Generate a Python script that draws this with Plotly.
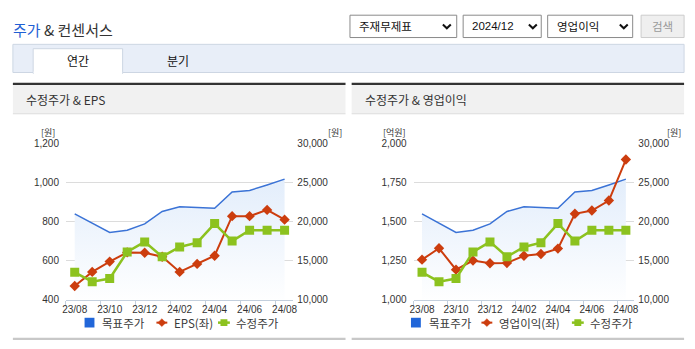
import plotly.graph_objects as go

# ---- data -------------------------------------------------------------
months = ["23/08", "23/09", "23/10", "23/11", "23/12", "24/01", "24/02",
          "24/03", "24/04", "24/05", "24/06", "24/07", "24/08"]
target_price = [21000, 19800, 18600, 18900, 19700, 21300, 21900,
                21800, 21700, 23800, 24000, 24700, 25450]          # 목표주가 (원)
adj_price = [13500, 12300, 12700, 16100, 17400, 15500, 16750,
             17300, 19750, 17500, 18900, 18900, 18900]              # 수정주가 (원)
eps = [470, 542, 595, 642, 640, 620, 542, 583, 625, 828, 828, 860, 810]   # EPS (원)
op_income = [1256, 1329, 1192, 1250, 1233, 1235, 1281, 1292, 1327,
             1550, 1571, 1635, 1898]                                # 영업이익 (억원)

left_ticks = [400, 600, 800, 1000, 1200]
op_ticks = [1000, 1250, 1500, 1750, 2000]
price_ticks = [10000, 15000, 20000, 25000, 30000]

# ---- page geometry helpers (pixels -> paper) ---------------------------
W, H = 695, 349


def px(x):
    return x / W


def py(y):
    return 1 - y / H


BLUE = "#3b73d6"
BLUE_SQ = "#2166d9"
RED = "#cc3d0e"
GREEN = "#8cc21f"
TXT = "#333333"
KR = "Noto Sans CJK KR"
NUM = "Liberation Sans Narrow, Arial Narrow, Liberation Sans, Arial"

fig = go.Figure()


def add_panel(xa, y_price, y_left, y_top, left_vals, left_name):
    # target price area with a soft vertical gradient (base layer)
    fig.add_trace(go.Scatter(
        x=months, y=target_price, xaxis=xa, yaxis=y_price, mode="lines",
        line=dict(color=BLUE, width=1.5), fill="tozeroy",
        fillgradient=dict(type="vertical", start=10000, stop=26000,
                          colorscale=[[0, "rgba(255,255,255,1)"], [1, "#e2edfb"]]),
        name="목표주가", hoverinfo="skip"))
    # left-axis series drawn over the area
    fig.add_trace(go.Scatter(
        x=months, y=left_vals, xaxis=xa, yaxis=y_left, mode="lines+markers",
        line=dict(color=RED, width=2),
        marker=dict(symbol="diamond", size=8, color=RED),
        name=left_name))
    # adjusted price on a hidden copy of the price axis, topmost
    fig.add_trace(go.Scatter(
        x=months, y=adj_price, xaxis=xa, yaxis=y_top, mode="lines+markers",
        line=dict(color=GREEN, width=2.5),
        marker=dict(symbol="square", size=9, color=GREEN),
        name="수정주가"))


add_panel("x", "y", "y2", "y5", eps, "EPS(좌)")
add_panel("x2", "y3", "y4", "y6", op_income, "영업이익(좌)")

Y_TOP, Y_BOT = 142.7, 303.3
ydom = [py(Y_BOT), py(Y_TOP)]

xcommon = dict(type="category", categoryarray=months, range=[-0.5, 12.5],
               tickmode="linear", tick0=0, dtick=2, tickson="boundaries",
               ticks="outside", ticklen=5, tickcolor="#c3cfdd", tickangle=0,
               showline=True, linecolor="#c3cfdd", linewidth=1,
               showgrid=False, zeroline=False,
               tickfont=dict(family=NUM, size=10, color=TXT))
ycommon = dict(showline=False, zeroline=False, ticks="",
               tickfont=dict(family=NUM, size=10, color=TXT), tickformat=",d")
price_axis = dict(range=[10000, 30000], tickvals=price_ticks)

fig.update_layout(
    width=W, height=H, margin=dict(l=0, r=0, t=0, b=0),
    paper_bgcolor="white", plot_bgcolor="white", showlegend=False,
    # left panel
    xaxis=dict(domain=[px(62.7), px(292.7)], anchor="y", **xcommon),
    yaxis=dict(domain=ydom, anchor="x", side="right", showgrid=True,
               gridcolor="#dcdcdc", ticklabelstandoff=3, **price_axis, **ycommon),
    yaxis2=dict(overlaying="y", side="left", anchor="x", range=[400, 1200],
                tickvals=left_ticks, showgrid=False, ticklabelstandoff=6, **ycommon),
    yaxis5=dict(overlaying="y", anchor="x", visible=False, showgrid=False, **price_axis),
    # right panel
    xaxis2=dict(domain=[px(414.3), px(637.7)], anchor="y3", **xcommon),
    yaxis3=dict(domain=ydom, anchor="x2", side="right", showgrid=True,
                gridcolor="#dcdcdc", ticklabelstandoff=3, **price_axis, **ycommon),
    yaxis4=dict(overlaying="y3", side="left", anchor="x2", range=[1000, 2000],
                tickvals=op_ticks, showgrid=False, ticklabelstandoff=6, **ycommon),
    yaxis6=dict(overlaying="y3", anchor="x2", visible=False, showgrid=False, **price_axis),
)

shapes = []
ann = []


def rect(x0, y0, x1, y1, fill=None, line=None, lw=1, layer="below"):
    shapes.append(dict(type="rect", xref="paper", yref="paper", layer=layer,
                       x0=px(x0), x1=px(x1), y0=py(y1), y1=py(y0),
                       fillcolor=fill or "rgba(0,0,0,0)",
                       line=dict(color=line or "rgba(0,0,0,0)", width=lw if line else 0)))


def path(points, color, width, fill=None, closed=False):
    d = "M" + " L".join(f"{px(x):.5f},{py(y):.5f}" for x, y in points)
    if closed:
        d += " Z"
    shapes.append(dict(type="path", xref="paper", yref="paper", path=d,
                       line=dict(color=color, width=width),
                       fillcolor=fill or "rgba(0,0,0,0)"))


def text(x, y, s, size=12, color=TXT, anchor="left", family=KR):
    ann.append(dict(xref="paper", yref="paper", x=px(x), y=py(y), text=s,
                    showarrow=False, xanchor=anchor, yanchor="middle",
                    font=dict(family=family, size=size, color=color)))


# ---- header ------------------------------------------------------------
text(7, 25, "<span style='color:#1f5fd4'>주가</span> & 컨센서스", size=15)

for (x0, x1, label, chev) in [(350, 458, "주재무제표", 448),
                              (464.5, 543.5, "2024/12", 535),
                              (550, 636, "영업이익", 627)]:
    rect(x0, 10.5, x1, 33.5, fill="white", line="#8a8a8a")
    text(x0 + 7, 22, label, size=11.5, color="#111111",
         family=(NUM if label[0].isdigit() else KR))
    path([(chev - 4, 20), (chev, 24), (chev + 4, 20)], "#111111", 2)
rect(644.5, 10.5, 688, 33.5, fill="#efefef", line="#cccccc")
text(666, 22, "검색", size=11.5, color="#9a9a9a", anchor="center")

# tab bar
rect(9, 40.5, 688, 69.5, fill="#e8eef8", line="#cdd6e3")
rect(29.5, 45, 120, 70.5, fill="white", line="#cdd6e3")
rect(30, 68.5, 119.5, 71, fill="white")
text(75, 57.5, "연간", size=12, color="#111111", anchor="center")
text(176, 57.5, "분기", size=12, color="#111111", anchor="center")

# chart panels
for (x0, x1, title) in [(9, 345.5, "수정주가 & EPS"), (351.7, 688, "수정주가 & 영업이익")]:
    rect(x0, 82, x1, 112, fill="#f1f1f1")
    shapes.append(dict(type="line", xref="paper", yref="paper",
                       x0=px(x0), x1=px(x1), y0=py(112), y1=py(112),
                       line=dict(color="#dddddd", width=1)))
    rect(x0, 80, x1, 82.3, fill="#333333")
    rect(x0, 342.5, x1, 344.8, fill="#c8c8c8")
    text(x0 + 11, 97.5, title, size=12, color="#333333")

# axis unit captions
text(45, 131, "[원]", size=9, anchor="center")
text(335, 131, "[원]", size=9, anchor="center")
text(395, 131, "[억원]", size=9, anchor="center")
text(678, 131, "[원]", size=9, anchor="center")

# ---- legends -----------------------------------------------------------
LY = 327


def legend(sq_x, txt1_x, red_x, txt2_x, red_name, green_x, txt3_x):
    rect(sq_x, LY - 5, sq_x + 10, LY + 5, fill=BLUE_SQ, layer="above")
    text(txt1_x, LY, "목표주가", size=11.5, color="#3a3a3a")
    path([(red_x - 5.5, LY), (red_x + 5.5, LY)], RED, 2)
    path([(red_x, LY - 4), (red_x + 4, LY), (red_x, LY + 4), (red_x - 4, LY)],
         RED, 0.5, fill=RED, closed=True)
    text(txt2_x, LY, red_name, size=11.5, color="#3a3a3a")
    path([(green_x - 6, LY), (green_x + 6, LY)], GREEN, 2.5)
    rect(green_x - 3.5, LY - 3.5, green_x + 3.5, LY + 3.5, fill=GREEN, layer="above")
    text(txt3_x, LY, "수정주가", size=11.5, color="#3a3a3a")


legend(81.5, 97.5, 159.7, 169.5, "EPS(좌)", 222.5, 232.5)
legend(411.7, 427.5, 488.5, 499, "영업이익(좌)", 580.5, 590.5)

fig.update_layout(shapes=shapes, annotations=ann)
fig.write_html("out.html")
